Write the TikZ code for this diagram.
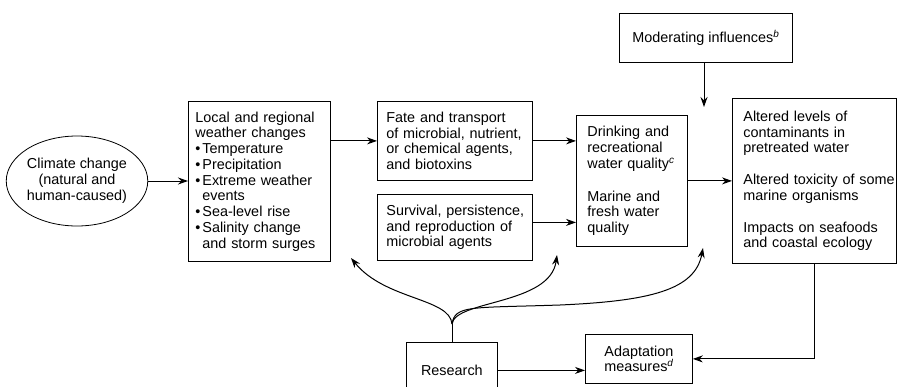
\documentclass[tikz,border=0pt]{standalone}
\usepackage{fontspec}
\setmainfont{Liberation Sans}
\usepackage{tikz}
\usetikzlibrary{arrows.meta}
\usetikzlibrary{calc}
\usetikzlibrary{positioning}
\usetikzlibrary{shapes}

\newcommand{\bul}{\textbullet\hspace{2pt}}
\newcommand{\hang}{\hphantom{\textbullet\hspace{2pt}}}
\newcommand{\fnote}[1]{\textsuperscript{\itshape #1}}

\begin{document}
\begin{tikzpicture}[x=1pt, y=-1pt, >={Stealth[length=10pt, width=7pt]},
	line width=1pt,
	txt/.style={font=\fontsize{14.4}{15.75}\selectfont},
	box/.style={txt, draw, line width=0.8pt, anchor=north west, align=left,
				inner ysep=0pt},
	cbox/.style={txt, draw, line width=0.8pt, anchor=north west, align=center,
				inner sep=0pt},
	arr/.style={->},
]
\useasboundingbox (0,0) rectangle (897,386);
\clip (0,0) rectangle (897,386);
\node [txt, ellipse, draw, line width=0.8pt,
	inner sep=0pt, align=center, minimum width=134, minimum height=90] (clim) at (77,181)
	{Climate change\\(natural and\\human-caused)};
\node [box, inner xsep=7pt, text width=128pt, minimum height=160pt] (local) at (188,101)
	{\mbox{Local and regional}\\weather changes\\\bul Temperature\\\bul Precipitation\\
	\mbox{\bul Extreme weather}\\\hang events\\\bul Sea-level rise\\\mbox{\bul Salinity change}\\
	\mbox{\hang and storm surges}};
\node [box, inner xsep=9pt, text width=137pt, minimum height=79pt] (fate) at (377,101)
	{Fate and transport\\\mbox{of microbial, nutrient,}\\\mbox{or chemical agents,}\\and biotoxins};
\node [box, inner xsep=9pt, text width=137pt, minimum height=66pt] (surv) at (377,194)
	{\mbox{Survival, persistence,}\\\mbox{and reproduction of}\\microbial agents};
\node [box, inner xsep=11pt, text width=89pt, minimum height=131pt] (drink) at (576,115)
	{Drinking and\\\mbox{recreational}\\\mbox{water quality\fnote{c}}\\[17pt]Marine and\\fresh water\\quality};
\node [box, inner xsep=11pt, text width=142pt, minimum height=165pt] (alter) at (732,98)
	{Altered levels of\\contaminants in\\pretreated water\\[16pt]\mbox{Altered toxicity of some}\\
	marine organisms\\[16pt]\mbox{Impacts on seafoods}\\\mbox{and coastal ecology}};
\node [cbox, minimum width=173pt, minimum height=49pt] (mod) at (619,13)
	{Moderating influences\fnote{b}};
\node [cbox, minimum width=107pt, minimum height=49pt] (adapt) at (585,334)
	{Adaptation\\measures\fnote{d}};
\node [cbox, minimum width=91pt, minimum height=56pt] (res) at (406,342)
	{Research};
%
\coordinate (modend) at (704,107);
\coordinate (fork)   at (452,324);
\coordinate (tipA)   at (351,258);
\coordinate (tipB)   at (557,255);
\coordinate (tipC)   at (703,248);
%
\draw [arr] (clim.east) -- (local.west |- clim.east);
\draw [arr] (local.east |- fate.west) -- (fate.west);
\draw [arr] (fate.east) -- (fate.east -| drink.west);
\draw [arr] ([yshift=5pt]surv.east) -- ([yshift=5pt]surv.east -| drink.west);
\draw [arr] (drink.east) -- (drink.east -| alter.west);
\draw [arr] (mod.south -| modend) -- (modend);
\draw [arr] (alter.south) |- (adapt.east);
\draw [arr] (res.east |- res.center) -- (res.center -| adapt.west);
\draw (res.north -| fork) -- (fork);
\draw [arr] (fork) .. controls (450,298) and (385,300) .. (tipA);
\draw [arr] (fork) .. controls (455,300) and (550,305) .. (tipB);
\draw [arr] (fork) .. controls (455,305) and (470,308) .. (560,305)
	.. controls (650,301) and (695,290) .. (tipC);
\end{tikzpicture}
\end{document}
